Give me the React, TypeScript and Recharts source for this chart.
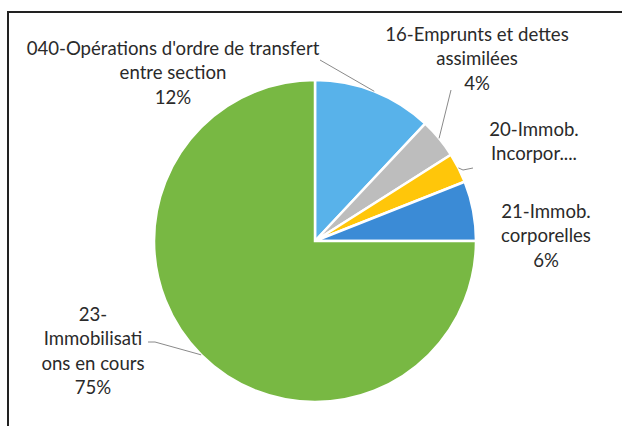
import React from "react";
import { PieChart, Pie, Cell } from "recharts";

const categories = [
  "040-Opérations d'ordre de transfert entre section",
  "16-Emprunts et dettes assimilées",
  "20-Immob. Incorpor....",
  "21-Immob. corporelles",
  "23-Immobilisations en cours",
];
const values = [12, 4, 3, 6, 75];
const labelLines = [
  ["040-Opérations d'ordre de transfert", "entre section"],
  ["16-Emprunts et dettes", "assimilées"],
  ["20-Immob.", "Incorpor...."],
  ["21-Immob.", "corporelles"],
  ["23-", "Immobilisati", "ons en cours"],
];
const showPercent = [true, true, false, true, true];
const colors = ["#58B2EA", "#BDBDBD", "#FFC60A", "#3B8BD6", "#78B843"];

// label layout (relative to pie centre)
const labelOffsets = [
  { dx: -142, dy: -193 },
  { dx: 162, dy: -207 },
  { dx: 219, dy: -112 },
  { dx: 231, dy: -30 },
  { dx: -222, dy: 73 },
];
const leaderPaths: Array<Array<[number, number]> | null> = [
  [[5, -181]],
  [[136, -151]],
  [[148, -71], [158, -73]],
  null,
  [[-160, 101], [-167, 101]],
];

const data = categories.map((c, i) => ({ name: c, value: values[i] }));

const FONT = "Lato, 'Open Sans', sans-serif";
const FS = 18.6;
const LH = 24.5;
const RADIAN = Math.PI / 180;

const renderLabel = (props: any) => {
  const { cx, cy, midAngle, outerRadius, index, percent } = props;
  const off = labelOffsets[index];
  const lines = [...labelLines[index]];
  if (showPercent[index]) lines.push(Math.round(percent * 100) + "%");
  const x = cx + off.dx;
  const y0 = cy + off.dy;
  const lp = leaderPaths[index];
  let path: string | null = null;
  if (lp) {
    const sx = cx + outerRadius * Math.cos(-midAngle * RADIAN);
    const sy = cy + outerRadius * Math.sin(-midAngle * RADIAN);
    path = `M${sx},${sy}` + lp.map(([px, py]) => ` L${cx + px},${cy + py}`).join("");
  }
  return (
    <g key={"lbl" + index}>
      {path && <path d={path} stroke="#8a8a8a" strokeWidth={1} fill="none" />}
      {lines.map((t, k) => (
        <text
          key={k}
          x={x}
          y={y0 + k * LH + FS * 0.35}
          textAnchor="middle"
          fontFamily={FONT}
          fontSize={FS}
          fill="#2a2a2a"
        >
          {t}
        </text>
      ))}
    </g>
  );
};

export default function App() {
  return (
    <div
      style={{
        position: "absolute",
        left: 0,
        top: 0,
        width: 622,
        height: 426,
        overflow: "hidden",
        background: "#fff",
      }}
    >
      <div
        style={{
          position: "absolute",
          left: 7,
          top: 11,
          width: 700,
          height: 500,
          borderTop: "2px solid #222",
          borderLeft: "2px solid #222",
        }}
      />
      <div style={{ position: "absolute", left: 0, top: 0 }}>
        <PieChart width={622} height={426} margin={{ top: 0, right: 0, bottom: 0, left: 0 }}>
          <Pie
            data={data}
            dataKey="value"
            nameKey="name"
            cx={315}
            cy={241}
            outerRadius={161}
            startAngle={90}
            endAngle={-270}
            stroke="#fff"
            strokeWidth={2.5}
            label={renderLabel}
            labelLine={false}
            isAnimationActive={false}
          >
            {data.map((d, i) => (
              <Cell key={d.name} fill={colors[i]} />
            ))}
          </Pie>
        </PieChart>
      </div>
    </div>
  );
}
